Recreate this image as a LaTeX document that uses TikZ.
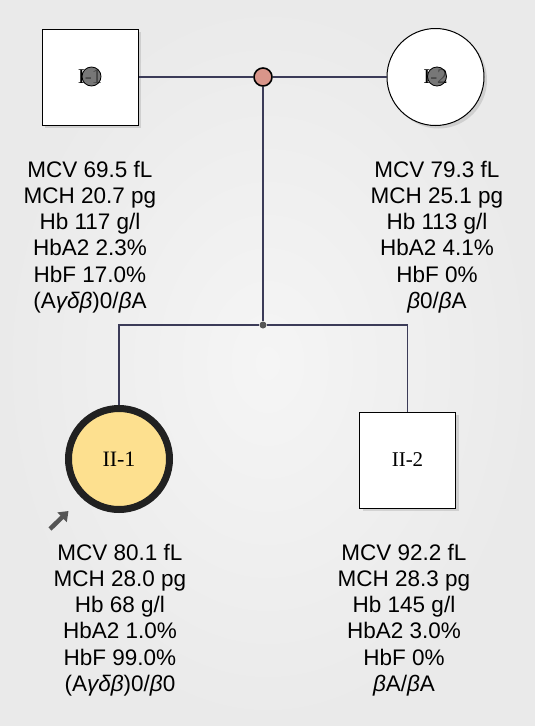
\documentclass[tikz,border=0pt]{standalone}
\usepackage{fontspec}
\setmainfont{Liberation Sans}
\newfontfamily\labelfont{Liberation Serif}
\usetikzlibrary{arrows.meta, positioning, shapes.geometric, shadows}
\definecolor{PageGray}{HTML}{F5F5F5}
\definecolor{PageEdge}{HTML}{EAEAEA}
\definecolor{LinkNavy}{HTML}{3B3B58}
\definecolor{UnionRose}{HTML}{D9958A}
\definecolor{ProbandGold}{HTML}{FDE08F}
\definecolor{CarrierGray}{HTML}{555555}

\begin{document}
\begin{tikzpicture}[
            x=1pt, y=-1pt,
            male/.style = {rectangle, draw=black, fill=white, line width=1pt, minimum size=96pt, inner sep=0pt, font=\labelfont\fontsize{21}{24}\selectfont, drop shadow={shadow xshift=3pt, shadow yshift=-3pt, opacity=0.25}},
            female/.style = {circle, draw=black, fill=white, line width=1pt, minimum size=97pt, inner sep=0pt, font=\labelfont\fontsize{21}{24}\selectfont, drop shadow={shadow xshift=3pt, shadow yshift=-3pt, opacity=0.25}},
            proband/.style = {circle, draw=black!87, fill=ProbandGold, line width=7pt, minimum size=101pt, inner sep=0pt, font=\labelfont\fontsize{22}{24}\selectfont},
            carrier/.style = {circle, draw=black, fill=CarrierGray, fill opacity=0.8, line width=0.8pt, minimum size=19pt, inner sep=0pt},
            union/.style = {circle, draw=black, fill=UnionRose, line width=1.6pt, minimum size=18pt, inner sep=0pt},
            junction/.style = {circle, fill=CarrierGray, minimum size=7pt, inner sep=0pt},
            info/.style = {align=center, font=\fontsize{22.5}{26.3}\selectfont, inner sep=0pt},
            link/.style = {draw=LinkNavy, line width=1.3pt}
        ]
            % page
            \shade[inner color=PageGray, outer color=PageEdge] (0,0) rectangle (535,726);
            \useasboundingbox (0,0) rectangle (535,726);

            % generation I
            \node [male] (I1) at (90,77) {I-1};
            \node [carrier] (c1) at (91.5,76.5) {};
            \node [female] (I2) at (435.5,77) {I-2};
            \node [carrier] (c2) at (437,76.5) {};
            \node [union] (u) at (263,77) {};
            \node [junction] (sib) at (263,325) {};

            % generation II
            \node [proband] (II1) at (119,459) {II-1};
            \node [male] (II2) at (407.5,460) {II-2};
            \coordinate (arrowtail) at (50,529);
            \coordinate (arrowtip) at (68.5,511);

            \draw [link] (I1) -- (u);
            \draw [link] (u) -- (I2);
            \draw [link] (u) -- (sib);
            \draw [link] (II1.north) |- (sib);
            \draw [link] (sib) -| (II2.north);
            \draw [-{Triangle[length=9pt, width=13pt]}, line width=4.5pt, CarrierGray] (arrowtail) -- (arrowtip);

            % blood values
            \node [info] (t1) at (90,237) {MCV 69.5 fL\\MCH 20.7 pg\\Hb 117 g/l\\HbA2 2.3\%\\HbF 17.0\%\\(A\textit{γδβ})0/\textit{β}A};
            \node [info] (t2) at (437,237) {MCV 79.3 fL\\MCH 25.1 pg\\Hb 113 g/l\\HbA2 4.1\%\\HbF 0\%\\\textit{β}0/\textit{β}A};
            \node [info] (t3) at (120,620) {MCV 80.1 fL\\MCH 28.0 pg\\Hb 68 g/l\\HbA2 1.0\%\\HbF 99.0\%\\(A\textit{γδβ})0/\textit{β}0};
            \node [info] (t4) at (404,620) {MCV 92.2 fL\\MCH 28.3 pg\\Hb 145 g/l\\HbA2 3.0\%\\HbF 0\%\\\textit{β}A/\textit{β}A};
        \end{tikzpicture}
\end{document}
